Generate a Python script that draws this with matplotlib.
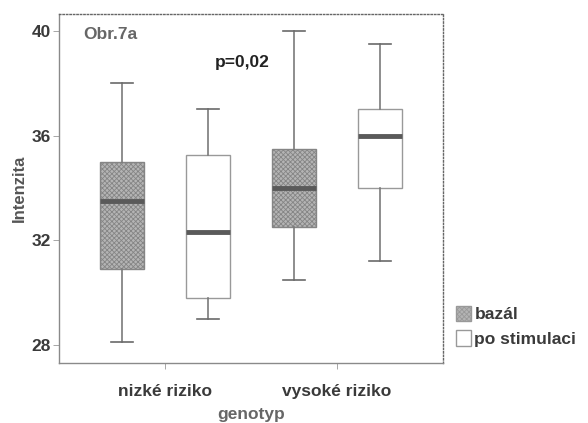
import numpy as np
import matplotlib.pyplot as plt
from matplotlib.patches import Patch

plt.rcParams['font.family'] = ['Liberation Sans', 'DejaVu Sans']
plt.rcParams['font.weight'] = 'bold'
plt.rcParams['axes.labelweight'] = 'bold'
plt.rcParams['hatch.linewidth'] = 0.6

# genotype groups and the two measurements
groups = ['nizké riziko', 'vysoké riziko']
series = ['bazál', 'po stimulaci']

# box summaries per series, one value per group
whislo = {'bazál': [28.1, 30.5], 'po stimulaci': [29.0, 31.2]}
q1 = {'bazál': [30.9, 32.5], 'po stimulaci': [29.8, 34.0]}
med = {'bazál': [33.5, 34.0], 'po stimulaci': [32.3, 36.0]}
q3 = {'bazál': [35.0, 35.5], 'po stimulaci': [35.25, 37.0]}
whishi = {'bazál': [38.0, 40.0], 'po stimulaci': [37.0, 39.5]}

yticks = [28, 32, 36, 40]

fig = plt.figure(figsize=(5.88, 4.23), dpi=100)
ax = fig.add_axes([0.1003, 0.1418, 0.6531, 0.8251])

offsets = {'bazál': -0.25, 'po stimulaci': 0.25}
face = {'bazál': '#b4b4b4', 'po stimulaci': 'white'}
hatch = {'bazál': 'xxxxxxx', 'po stimulaci': None}

for s in series:
    stats = []
    for i in range(len(groups)):
        stats.append(dict(whislo=whislo[s][i], q1=q1[s][i], med=med[s][i],
                          q3=q3[s][i], whishi=whishi[s][i], fliers=[]))
    pos = np.arange(len(groups)) + offsets[s]
    bp = ax.bxp(stats, positions=pos, widths=0.256, patch_artist=True,
                showfliers=False, manage_ticks=False,
                boxprops=dict(facecolor=face[s], edgecolor='#999999', linewidth=1.0),
                medianprops=dict(color='#5a5a5a', linewidth=3.5, solid_capstyle='butt'),
                whiskerprops=dict(color='#7a7a7a', linewidth=1.2),
                capprops=dict(color='#6a6a6a', linewidth=1.2),
                capwidths=0.128)
    if hatch[s]:
        for b in bp['boxes']:
            b.set_hatch(hatch[s])
            b.set_edgecolor('#858585')

ax.set_xlim(-0.616, 1.616)
ax.set_ylim(27.31, 40.65)
ax.set_yticks(yticks)
ax.set_yticklabels([str(t) for t in yticks])
ax.set_xticks(range(len(groups)))
ax.set_xticklabels(groups)
ax.tick_params(axis='y', length=4, width=0.6, color='#999999', labelsize=12.5,
               labelcolor='#3a3a3a', pad=2)
ax.tick_params(axis='x', length=4, width=0.6, color='#999999', labelsize=12.5,
               labelcolor='#3a3a3a', pad=11)

for side in ['top', 'right']:
    ax.spines[side].set_linestyle((0, (1, 1.5)))
    ax.spines[side].set_color('#666666')
    ax.spines[side].set_linewidth(1.0)
for side in ['left', 'bottom']:
    ax.spines[side].set_color('#8a8a8a')
    ax.spines[side].set_linewidth(1.0)

ax.set_ylabel('Intenzita', fontsize=12, color='#555555', labelpad=3)
ax.set_xlabel('genotyp', fontsize=12.5, color='#666666', labelpad=6)

ax.text(0.062, 0.94, 'Obr.7a', transform=ax.transAxes, fontsize=12.5,
        color='#666666', va='center')
ax.text(0.405, 0.86, 'p=0,02', transform=ax.transAxes, fontsize=12.5,
        color='#222222', va='center')

handles = [Patch(facecolor=face[s], edgecolor='#999999', hatch=hatch[s], label=s)
           for s in series]
fig.legend(handles=handles, loc='upper left', bbox_to_anchor=(0.764, 0.294),
           frameon=False, fontsize=12.5, handlelength=0.85, handleheight=1.0,
           handletextpad=0.2, labelspacing=0.45, borderaxespad=0,
           labelcolor='#3a3a3a')

fig.savefig('out.png', dpi=100)
plt.close(fig)
